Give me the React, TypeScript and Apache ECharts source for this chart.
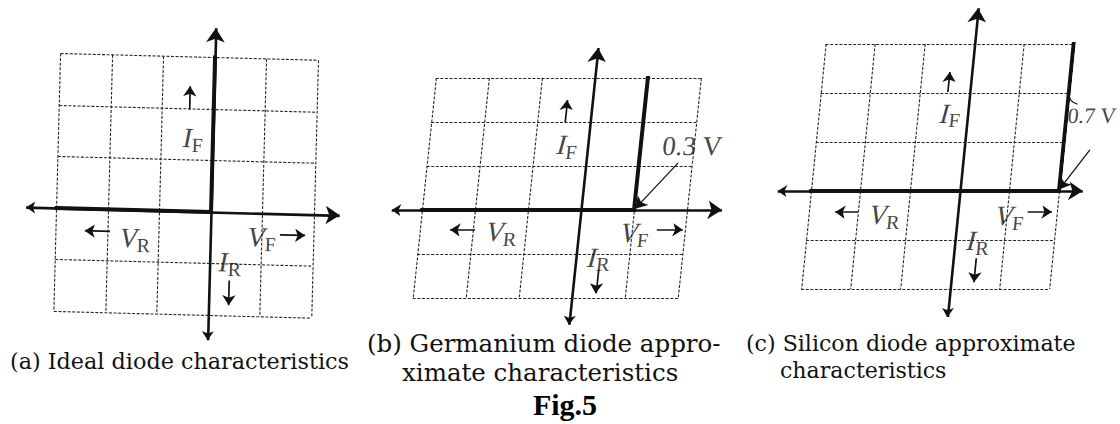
import React, { useEffect, useRef } from 'react';
import * as echarts from 'echarts';

// ---------------- data ----------------
const gridVoltageRange = [-3, 2]; // paper grid, voltage divisions
const gridCurrentRange = [-2, 3]; // paper grid, current divisions
const idealCurve = [[-3, 0], [0, 0], [0, 3]];
const germaniumCurve = [[-3, 0], [1, 0], [1, 3]];
const siliconCurve = [[-3, 0], [2, 0], [2, 3]];
const kneeLabels = ['', '0.3 V', '0.7 V'];
const quantityLabels = [['I', 'F'], ['V', 'R'], ['V', 'F'], ['I', 'R']];
const captionA = ['(a) Ideal diode characteristics'];
const captionB = ['(b) Germanium diode appro-', 'ximate characteristics'];
const captionC = ['(c) Silicon diode approximate', 'characteristics'];
const figureTitle = 'Fig.5';

// ---------------- layout / style ----------------
const INK = '#111111';
const GRIDINK = '#262626';
const FONT = '"Liberation Serif", "Times New Roman", serif';
const CAPFONT = '"DejaVu Serif", "Liberation Serif", serif';

const LAYOUT = [
  {
    grid: { left: 56.5, top: 57.5, width: 257.5, height: 257.5 },
    css: { transform: 'rotate(1.5deg)', transformOrigin: '211px 212px' },
    axisX: [-3.59, 2.5], axisY: [-2.49, 3.57],
    labels: [[-0.39, 1.43], [-1.46, -0.54], [1.0, -0.46], [0.39, -0.96]],
    arrows: [
      [[-0.47, 1.98], [-0.47, 2.43]],
      [[-1.95, -0.43], [-2.44, -0.43]],
      [[1.35, -0.41], [1.84, -0.41]],
      [[0.39, -1.32], [0.39, -1.8]],
    ],
    knee: null as null | number[],
    leader: null as null | number[][],
    curl: null as null | number[][],
    kneeFont: 26,
  },
  {
    grid: { left: 422, top: 78, width: 265, height: 220 },
    css: { transform: 'skewX(-6deg)', transformOrigin: '581px 210px' },
    axisX: [-3.57, 2.66], axisY: [-2.61, 3.68],
    labels: [[-0.39, 1.48], [-1.45, -0.5], [1.06, -0.52], [0.43, -1.07]],
    arrows: [
      [[-0.48, 2.0], [-0.48, 2.5]],
      [[-1.96, -0.45], [-2.43, -0.45]],
      [[1.47, -0.45], [1.96, -0.45]],
      [[0.44, -1.36], [0.44, -1.89]],
    ],
    knee: [1.97, 1.45],
    leader: [[1.74, 1.07], [1.02, 0.03]],
    curl: null,
    kneeFont: 27,
  },
  {
    grid: { left: 811, top: 44, width: 248, height: 245 },
    css: { transform: 'skewX(-5.7deg)', transformOrigin: '959.8px 191px' },
    axisX: [-3.67, 2.48], axisY: [-2.57, 3.73],
    labels: [[-0.35, 1.59], [-1.46, -0.49], [1.06, -0.51], [0.47, -1.02]],
    arrows: [
      [[-0.44, 2.02], [-0.44, 2.43]],
      [[-2.01, -0.43], [-2.47, -0.43]],
      [[1.41, -0.43], [1.9, -0.43]],
      [[0.47, -1.37], [0.47, -1.86]],
    ],
    knee: [2.51, 1.55],
    leader: [[2.54, 0.84], [2.0, 0.03]],
    curl: [[2.0, 2.0], [2.2, 1.77]],
    kneeFont: 22,
  },
];

const CAPTIONS = [
  { lines: captionA, x: [10], y: [361], size: 22.3 },
  { lines: captionB, x: [367, 402], y: [343.5, 372.5], size: 24.5 },
  { lines: captionC, x: [746, 780], y: [343, 370], size: 22.1 },
];

function panelOption(i: number) {
  const l = LAYOUT[i];
  const curves = [idealCurve, germaniumCurve, siliconCurve];
  const splitLine = {
    show: true,
    showMinLine: true,
    showMaxLine: true,
    lineStyle: { color: GRIDINK, width: 1.1, type: [3, 1.6] },
  };
  const hidden = {
    axisLine: { show: false },
    axisTick: { show: false },
    axisLabel: { show: false },
  };
  const common = { silent: true };
  const series: any[] = [];
  series.push({
    ...common,
    type: 'line',
    data: curves[i],
    symbol: 'none',
    clip: false,
    lineStyle: { color: INK, width: 4, cap: 'square', join: 'miter' },
    z: 6,
  });
  series.push({
    ...common,
    type: 'lines',
    coordinateSystem: 'cartesian2d',
    clip: false,
    symbol: ['arrow', 'arrow'],
    symbolSize: [9, 14],
    lineStyle: { color: INK, width: 2.6, opacity: 1, curveness: 0 },
    data: [
      { coords: [[l.axisX[0], 0], [l.axisX[1], 0]] },
      { coords: [[0, l.axisY[0]], [0, l.axisY[1]]] },
    ],
    z: 5,
  });
  series.push({
    ...common,
    type: 'lines',
    coordinateSystem: 'cartesian2d',
    clip: false,
    symbol: ['none', 'arrow'],
    symbolSize: [7, 10],
    lineStyle: { color: INK, width: 1.7, opacity: 1, curveness: 0 },
    data: l.arrows.map((c) => ({ coords: c })),
    z: 5,
  });
  if (l.leader) {
    series.push({
      ...common,
      type: 'lines',
      coordinateSystem: 'cartesian2d',
      clip: false,
      symbol: ['none', 'arrow'],
      symbolSize: [7, 11],
      lineStyle: { color: INK, width: 1.3, opacity: 1, curveness: 0 },
      data: [{ coords: l.leader }],
      z: 5,
    });
  }
  if (l.curl) {
    series.push({
      ...common,
      type: 'lines',
      coordinateSystem: 'cartesian2d',
      clip: false,
      symbol: ['none', 'none'],
      lineStyle: { color: INK, width: 1.1, opacity: 1, curveness: -0.35 },
      data: [{ coords: l.curl }],
      z: 5,
    });
  }
  const labelData: any[] = quantityLabels.map((q, k) => ({
    value: l.labels[k],
    label: { formatter: `{m|${q[0]}}{s|${q[1]}}` },
  }));
  if (l.knee) {
    labelData.push({
      value: l.knee,
      label: {
        formatter: `{t|${kneeLabels[i]}}`,
        rich: { t: { fontFamily: FONT, fontSize: l.kneeFont, color: INK } },
      },
    });
  }
  series.push({
    ...common,
    type: 'scatter',
    clip: false,
    symbol: 'circle',
    symbolSize: 1,
    itemStyle: { color: 'rgba(0,0,0,0)' },
    data: labelData,
    label: {
      show: true,
      position: 'inside',
      color: INK,
      rich: {
        m: { fontFamily: FONT, fontStyle: 'italic', fontSize: 28, lineHeight: 34, color: INK },
        s: { fontFamily: FONT, fontSize: 20, lineHeight: 20, verticalAlign: 'bottom', color: INK },
        t: { fontFamily: FONT, fontSize: 26, color: INK },
      },
    },
    z: 7,
  });

  return {
    animation: false,
    backgroundColor: 'transparent',
    grid: [{ ...l.grid }],
    xAxis: [{
      type: 'value',
      min: gridVoltageRange[0], max: gridVoltageRange[1], interval: 1,
      ...hidden, splitLine,
    }],
    yAxis: [{
      type: 'value',
      min: gridCurrentRange[0], max: gridCurrentRange[1], interval: 1,
      ...hidden, splitLine,
    }],
    series,
  };
}

function captionOption() {
  const graphic: any[] = [];
  CAPTIONS.forEach((c) => {
    c.lines.forEach((t, k) => {
      graphic.push({
        type: 'text',
        x: c.x[k],
        y: c.y[k],
        silent: true,
        style: {
          text: t,
          fontFamily: CAPFONT,
          fontSize: c.size,
          fill: INK,
          align: 'left',
          verticalAlign: 'middle',
        },
      });
    });
  });
  graphic.push({
    type: 'text',
    x: 565,
    y: 404.5,
    silent: true,
    style: {
      text: figureTitle,
      fontFamily: FONT,
      fontSize: 30,
      fontWeight: 'bold',
      fill: '#000',
      align: 'center',
      verticalAlign: 'middle',
    },
  });
  return { animation: false, backgroundColor: '#ffffff', graphic };
}

const BOX: React.CSSProperties = { position: 'absolute', left: 0, top: 0, width: 1120, height: 424 };

export default function App() {
  const baseRef = useRef<HTMLDivElement>(null);
  const r0 = useRef<HTMLDivElement>(null);
  const r1 = useRef<HTMLDivElement>(null);
  const r2 = useRef<HTMLDivElement>(null);
  useEffect(() => {
    const charts: any[] = [];
    const base = echarts.init(baseRef.current!, null, { renderer: 'svg' });
    base.setOption(captionOption() as any);
    charts.push(base);
    [r0, r1, r2].forEach((r, i) => {
      const c = echarts.init(r.current!, null, { renderer: 'svg' });
      c.setOption(panelOption(i) as any);
      charts.push(c);
    });
    return () => charts.forEach((c) => c.dispose());
  }, []);
  return (
    <div style={{ position: 'fixed', left: 0, top: 0, width: 1120, height: 424, background: '#fff', overflow: 'hidden' }}>
      <div ref={baseRef} style={BOX} />
      {[r0, r1, r2].map((r, i) => (
        <div key={i} ref={r} style={{ ...BOX, ...LAYOUT[i].css, pointerEvents: 'none' }} />
      ))}
    </div>
  );
}
